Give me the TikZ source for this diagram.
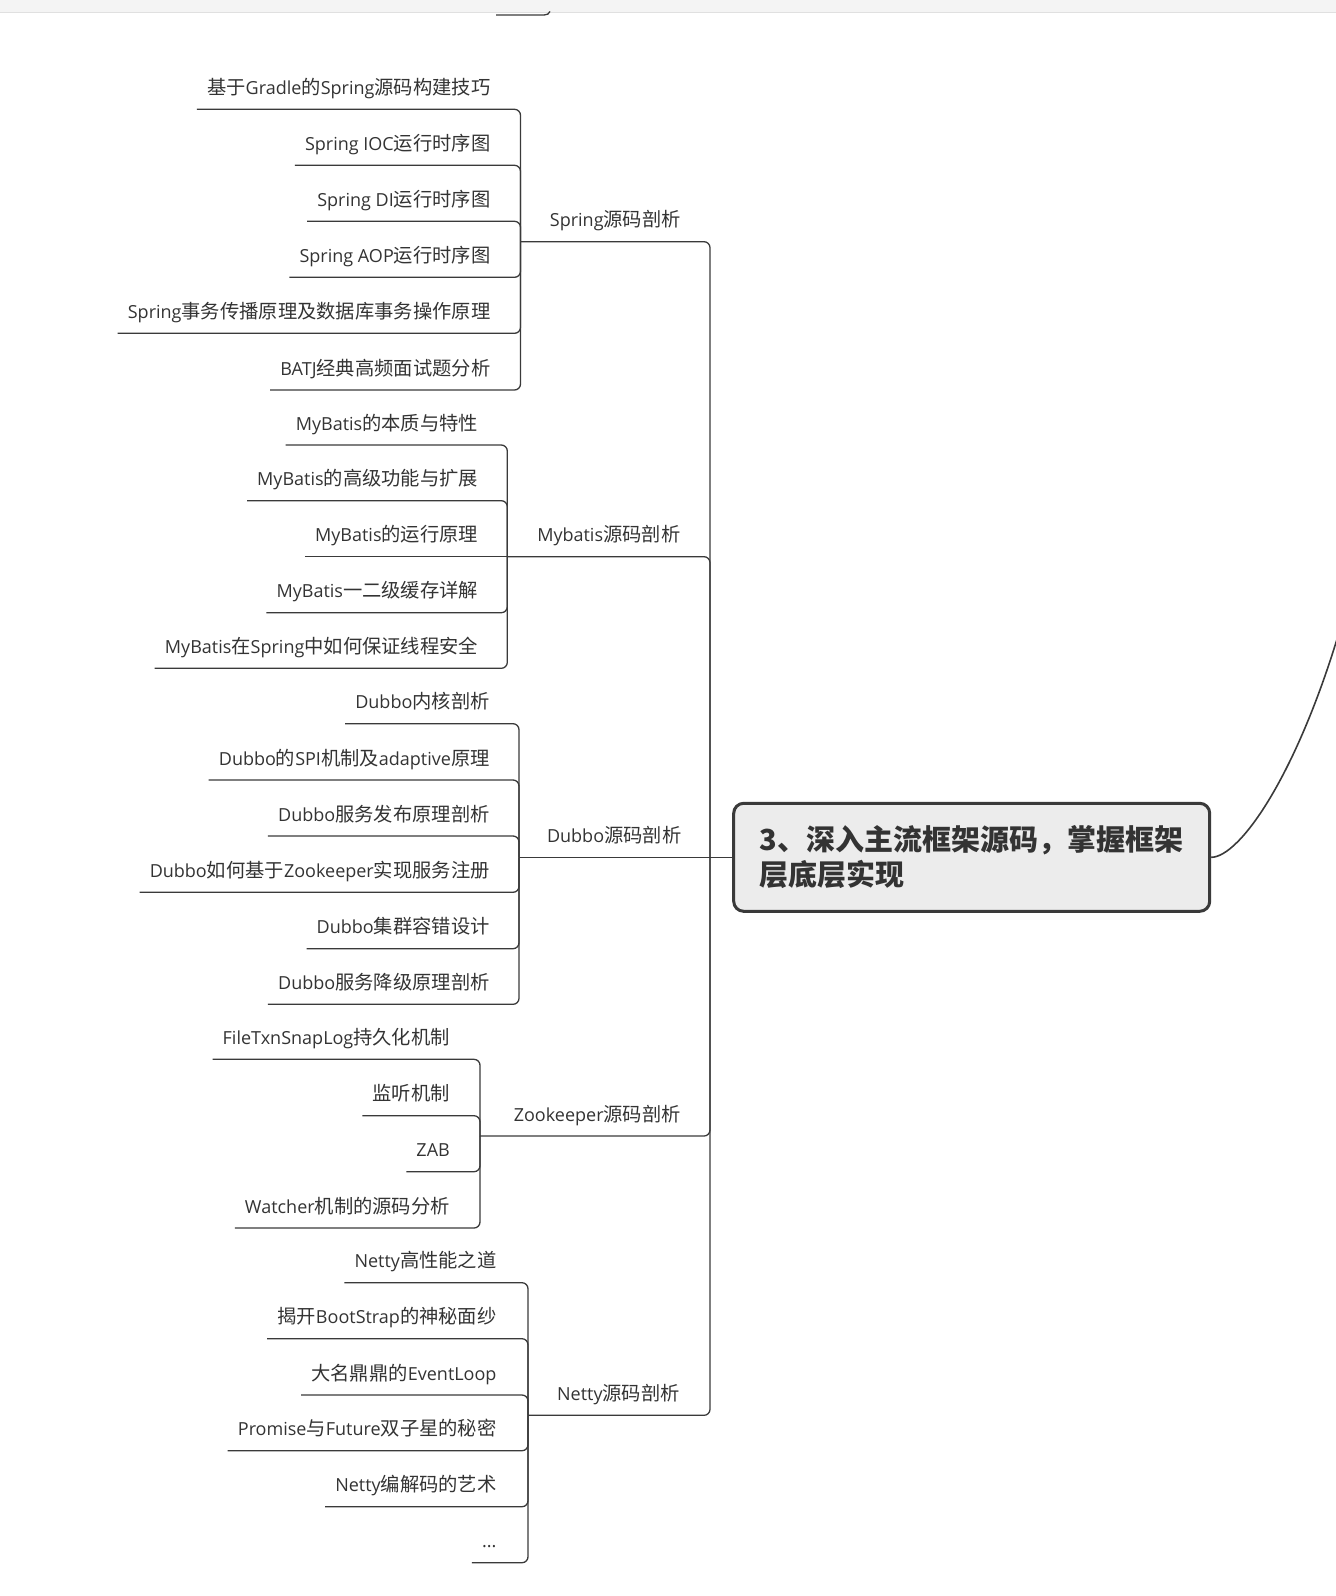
\documentclass[tikz,border=0pt]{standalone}
\usepackage{fontspec}
\setmainfont{Noto Sans CJK SC}[Scale=1.072]
\newfontfamily\latfont{Open Sans}
\newcommand\latn[1]{{\latfont #1}}
\definecolor{txt}{HTML}{333333}
\definecolor{ln}{HTML}{3A3A3A}
\definecolor{boxfill}{HTML}{ECECEC}
\definecolor{bar}{HTML}{F4F4F4}
\definecolor{barline}{HTML}{E0E0E0}
\begin{document}
\begin{tikzpicture}[x=1pt,y=-1pt,
  leaf/.style={font=\fontsize{18}{22}\selectfont, text=txt, inner xsep=10pt, inner ysep=9.6pt, text height=13pt, text depth=5pt, anchor=south east},
  conn/.style={draw=ln, line width=1.3pt, rounded corners=6pt},
  rootbox/.style={draw=ln, line width=3pt, fill=boxfill, rounded corners=10pt, minimum width=476pt, minimum height=108pt, align=left, anchor=west, font=\fontsize{27.05}{35}\selectfont\bfseries, text=txt}]
\useasboundingbox (0,0) rectangle (1336,1596);
\clip (0,0) rectangle (1336,1596);
% top bar
\fill[bar] (0,0) rectangle (1336,12);
\draw[barline, line width=1.2pt] (0,12.6) -- (1336,12.6);
\coordinate (tl) at (496,15);
\coordinate (tre) at (550,11.5);
\draw[ln, line width=1.3pt] (tl) -- (544,15) .. controls (547,15) and (549,14) .. (tre);

% root
\node[rootbox] (root) at (732.2,857.3) {3、深入主流框架源码，掌握框架\\层底层实现};
\coordinate (mainJ) at (710,857.3);
\coordinate (rc) at (1345,612);
\draw[ln, line width=1.6pt] (root.east) .. controls (1240,857.3) and (1300,772) .. (rc);

% Spring
\node[leaf] (s1) at (500.5,109.3) {基于\latn{Gradle}的\latn{Spring}源码构建技巧};
\node[leaf] (s2) at (500.5,165.3) {\latn{Spring IOC}运行时序图};
\node[leaf] (s3) at (500.5,221.3) {\latn{Spring DI}运行时序图};
\node[leaf] (s4) at (500.5,277.3) {\latn{Spring AOP}运行时序图};
\node[leaf] (s5) at (500.5,333.3) {\latn{Spring}事务传播原理及数据库事务操作原理};
\node[leaf] (s6) at (500.5,390) {\latn{BATJ}经典高频面试题分析};
\coordinate (js) at (520.5,241.7);
\node[leaf] (sp) at (691,241.7) {\latn{Spring}源码剖析};

% Mybatis
\node[leaf] (m1) at (488.3,445) {\latn{MyBatis}的本质与特性};
\node[leaf] (m2) at (488.3,500.7) {\latn{MyBatis}的高级功能与扩展};
\node[leaf] (m3) at (488.3,556.7) {\latn{MyBatis}的运行原理};
\node[leaf] (m4) at (488.3,612.7) {\latn{MyBatis}一二级缓存详解};
\node[leaf] (m5) at (488.3,668.3) {\latn{MyBatis}在\latn{Spring}中如何保证线程安全};
\coordinate (jm) at (507.3,556.7);
\node[leaf] (mp) at (690.5,556.7) {\latn{Mybatis}源码剖析};

% Dubbo
\node[leaf] (d1) at (499.8,723.7) {\latn{Dubbo}内核剖析};
\node[leaf] (d2) at (499.8,780) {\latn{Dubbo}的\latn{SPI}机制及\latn{adaptive}原理};
\node[leaf] (d3) at (499.8,836) {\latn{Dubbo}服务发布原理剖析};
\node[leaf] (d4) at (499.8,892.3) {\latn{Dubbo}如何基于\latn{Zookeeper}实现服务注册};
\node[leaf] (d5) at (499.8,948.7) {\latn{Dubbo}集群容错设计};
\node[leaf] (d6) at (499.8,1004.3) {\latn{Dubbo}服务降级原理剖析};
\coordinate (jd) at (519,857.3);
\node[leaf] (dp) at (691.5,857.3) {\latn{Dubbo}源码剖析};

% Zookeeper
\node[leaf] (z1) at (460,1059.3) {\latn{FileTxnSnapLog}持久化机制};
\node[leaf] (z2) at (460,1115.7) {监听机制};
\node[leaf] (z3) at (460,1171.7) {\latn{ZAB}};
\node[leaf] (z4) at (460,1228) {\latn{Watcher}机制的源码分析};
\coordinate (jz) at (480,1136);
\node[leaf] (zp) at (691,1136) {\latn{Zookeeper}源码剖析};

% Netty
\node[leaf] (n1) at (506.7,1282.7) {\latn{Netty}高性能之道};
\node[leaf] (n2) at (506.7,1338.7) {揭开\latn{BootStrap}的神秘面纱};
\node[leaf] (n3) at (506.7,1395) {大名鼎鼎的\latn{EventLoop}};
\node[leaf] (n4) at (506.7,1450.7) {\latn{Promise}与\latn{Future}双子星的秘密};
\node[leaf] (n5) at (506.7,1506.7) {\latn{Netty}编解码的艺术};
\node[leaf] (n6) at (506.7,1562.7) {\latn{...}};
\coordinate (jn) at (528,1415.3);
\node[leaf] (np) at (690,1415.3) {\latn{Netty}源码剖析};

% child connectors
\foreach \c/\j in {s1/js,s2/js,s3/js,s4/js,s5/js,s6/js,
                   m1/jm,m2/jm,m4/jm,m5/jm,
                   d1/jd,d2/jd,d3/jd,d4/jd,d5/jd,d6/jd,
                   z1/jz,z2/jz,z3/jz,z4/jz,
                   n1/jn,n2/jn,n3/jn,n4/jn,n5/jn,n6/jn}
  \draw[conn] (\c.south west) -- (\c.south east) -| (\j);
\draw[conn] (m3.south west) -- (jm);

% parent connectors
\foreach \p/\j in {sp/js,mp/jm,zp/jz,np/jn}
  \draw[conn] (\j) -- (\p.south west) -- (\p.south east) -| (mainJ);
\draw[conn] (jd) -- (dp.south west) -- (dp.south east) -- (mainJ) -- (root.west);
\end{tikzpicture}
\end{document}
